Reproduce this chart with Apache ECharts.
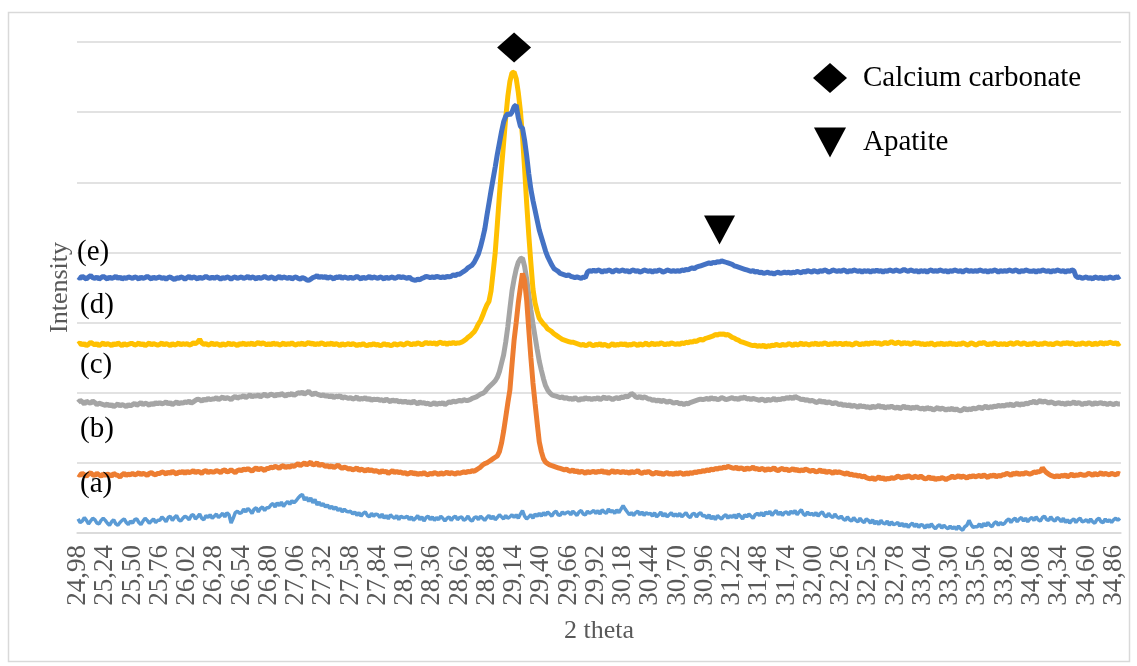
<!DOCTYPE html>
<html>
<head>
<meta charset="utf-8">
<script src="https://cdn.jsdelivr.net/npm/echarts@6/dist/echarts.min.js"></script>
<style>
html,body{margin:0;padding:0;background:#fff;}
#chart{width:1137px;height:666px;}
</style>
</head>
<body>
<div id="chart"></div>
<script>
// 2-theta axis: 24.98 .. 34.92 in steps of 0.02 (498 categories)
const thetaStart = 24.98;
const thetaStep = 0.02;
const thetaCount = 498;
const categories = [];
for (let i = 0; i < thetaCount; i++) {
  categories.push((thetaStart + thetaStep * i).toFixed(2).replace('.', ','));
}

// Offset intensities (arbitrary units, grid spacing = 100)
const seriesA = [
20,15,17,22,18,13,17,21,19,14,13,18,21,
18,14,11,16,19,13,11,15,18,20,15,12,17,
14,19,20,15,12,17,21,18,14,17,20,15,18,
18,23,20,16,22,24,18,22,25,19,17,21,24,
22,19,25,26,20,23,27,21,19,25,22,26,21,
24,27,22,25,28,23,29,26,14,21,29,31,28,
29,34,30,35,32,28,34,36,30,35,37,32,36,
36,40,42,37,43,39,44,38,42,45,41,46,43,
46,50,53,55,47,51,45,50,43,48,40,44,39,
42,37,40,35,38,34,37,32,35,30,34,31,30,
31,27,30,25,29,24,28,30,25,23,28,24,27,
26,22,27,21,25,20,26,23,21,25,19,24,22,
22,24,19,23,18,21,25,19,23,17,22,24,19,
23,18,22,19,24,21,17,21,23,18,22,24,19,
22,23,18,20,24,19,17,22,23,19,24,21,18,
22,25,20,24,19,22,26,23,20,25,21,23,26,
22,26,21,27,32,24,20,23,26,21,27,24,28,
24,29,25,30,27,24,29,31,26,25,30,27,29,
30,26,31,28,25,30,32,27,26,31,28,30,32,
28,32,27,33,30,28,34,30,32,28,33,29,34,
39,34,30,26,29,25,29,31,26,30,25,29,27,
28,24,29,23,26,30,24,28,23,26,29,24,27,
24,28,23,26,29,24,22,27,28,23,27,29,24,
25,21,26,20,24,19,25,22,20,24,26,21,25,
22,26,21,27,24,20,26,23,27,24,21,26,28,
25,29,24,30,27,31,25,29,32,26,30,25,29,
30,26,31,28,32,26,30,33,27,25,30,26,28,
25,29,24,28,30,25,23,28,24,22,27,23,21,
24,20,18,23,19,17,22,18,16,21,17,15,20,
18,14,19,13,17,12,18,14,13,17,11,16,12,
13,15,10,14,9,13,8,12,14,9,13,8,12,
11,7,12,8,13,9,6,10,12,7,11,8,6,
10,6,9,5,10,6,4,9,11,18,12,8,9,
9,13,8,14,10,15,11,9,14,16,11,15,12,
14,18,20,15,19,21,16,20,22,17,21,16,20,
22,18,23,19,17,22,24,19,18,23,19,17,22,
20,16,21,15,19,14,18,20,15,19,21,16,17,
19,15,20,16,14,19,21,16,15,20,16,19,15,
19,21,18,21
];

const seriesB = [
84,82,85,83,81,84,86,83,82,85,83,81,84,
82,84,83,81,85,83,82,80,83,85,82,84,83,
85,83,84,86,83,85,84,82,85,86,84,83,85,
85,87,86,84,87,85,88,86,84,87,86,88,85,
88,86,87,89,86,88,87,85,88,89,86,88,87,
87,89,88,86,89,90,87,88,90,88,86,89,90,
89,91,90,92,90,88,91,93,90,92,91,89,92,
92,94,93,95,94,92,95,96,93,95,94,96,95,
97,99,96,98,100,97,99,101,97,98,100,96,98,
97,95,96,94,96,93,95,97,94,92,94,93,91,
92,90,91,93,89,91,90,88,91,89,90,88,89,
88,86,89,87,88,85,87,89,86,88,86,87,85,
86,84,85,87,84,86,83,85,84,86,84,83,85,
84,86,85,83,86,84,85,87,84,86,85,84,86,
85,86,87,86,88,87,89,88,90,92,94,97,99,
100,102,104,106,108,110,116,128,145,165,185,204,240,
275,300,328,350,370,360,332,290,250,214,185,157,130,
116,106,101,99,97,96,95,94,93,92,91,90,91,
89,88,90,87,89,86,88,87,85,88,86,87,88,
86,88,87,89,86,88,85,87,89,86,88,87,86,
88,86,87,85,88,86,87,89,86,85,87,86,88,
86,84,85,87,84,86,83,85,86,84,85,83,86,
84,86,85,83,86,84,86,85,87,86,88,87,89,
88,90,89,91,90,92,91,93,92,94,93,95,94,
93,92,94,91,93,92,90,93,91,92,94,91,92,
90,92,91,89,92,90,91,93,90,89,91,92,90,
91,89,90,92,89,91,88,90,89,91,90,88,89,
89,87,88,90,87,89,86,88,87,85,88,86,87,
86,85,84,86,83,84,82,83,81,82,80,81,79,
78,77,79,76,78,80,77,79,76,78,77,79,78,
79,81,80,78,81,79,82,80,78,81,80,79,81,
79,77,78,80,77,79,76,78,77,79,78,76,78,
79,81,79,80,82,79,81,80,78,81,80,82,80,
81,82,80,83,81,79,82,81,83,80,82,81,83,
83,85,84,82,85,84,86,83,85,84,86,85,84,
85,87,86,88,87,93,89,86,84,82,81,80,82,
80,82,81,83,80,82,84,81,83,82,84,83,82,
83,85,84,82,85,83,84,86,83,85,84,83,85,
84,83,85,84
];

const seriesC = [
186,189,187,184,188,186,185,188,186,183,185,184,183,
182,184,181,183,180,182,184,181,183,182,180,183,181,
183,185,182,184,186,183,185,184,182,185,183,186,184,
186,184,185,187,184,186,183,185,187,184,186,185,187,
186,188,185,187,189,191,190,188,191,189,192,190,191,
191,193,190,192,194,191,193,192,190,193,195,192,194,
194,196,193,195,197,194,196,195,197,194,196,198,195,
196,198,197,195,198,196,199,197,195,198,197,199,196,
198,200,199,201,198,200,202,199,197,200,198,197,196,
197,195,196,194,196,193,195,194,196,192,194,193,192,
193,191,192,194,190,192,191,193,190,192,189,191,190,
191,189,190,188,191,189,187,190,188,189,187,188,186,
188,186,187,185,188,186,184,187,185,186,184,185,183,
184,186,183,185,184,186,183,185,187,186,188,187,188,
189,188,190,189,189,190,192,193,194,196,198,199,201,
205,208,211,214,217,222,230,242,254,272,294,320,345,
362,376,386,391,392,380,362,340,318,298,280,262,245,
232,220,210,204,200,197,196,195,194,193,194,192,193,
191,192,190,193,191,189,192,190,193,191,192,190,192,
191,193,190,192,194,191,193,192,190,192,193,191,194,
193,195,194,196,199,197,194,193,195,192,194,193,191,
191,189,190,188,190,187,189,188,186,188,187,185,186,
186,184,185,183,185,184,186,187,188,189,190,191,190,
191,192,190,193,191,192,190,191,193,192,190,191,192,
193,191,192,190,193,192,194,191,192,190,192,191,190,
189,191,190,188,191,189,190,192,189,191,190,192,191,
193,192,194,191,195,193,192,190,191,189,190,188,189,
188,186,187,189,186,188,185,187,186,184,186,185,183,
184,182,183,181,183,180,182,181,179,182,180,181,179,
180,178,181,179,180,182,179,181,178,180,179,181,179,
178,180,177,179,181,178,180,177,179,178,180,178,177,
178,176,179,177,178,175,177,179,176,178,177,175,177,
176,178,175,177,175,174,176,178,175,177,176,178,177,
178,180,177,179,181,178,180,179,181,180,182,181,182,
181,183,182,184,181,183,185,182,184,183,185,184,186,
186,188,185,187,189,186,188,187,185,187,186,184,185,
186,184,185,183,186,184,185,187,184,186,185,183,185,
184,186,185,183,186,184,185,186,184,185,183,185,184,
183,185,184,184
];

const seriesD = [
269,271,268,270,267,269,272,270,268,270,267,269,271,
268,270,269,267,270,268,271,269,267,270,268,269,270,
270,268,269,271,268,270,267,269,271,268,270,269,268,
269,271,268,270,269,267,270,268,269,271,268,270,269,
270,268,269,271,270,272,276,271,269,270,268,269,271,
268,270,269,267,270,268,269,271,268,270,269,267,270,
269,271,268,270,269,271,268,270,272,269,271,270,268,
270,268,271,269,270,268,269,271,268,270,269,271,269,
268,270,269,271,268,270,272,269,271,268,270,269,271,
270,268,270,269,271,268,270,269,267,270,268,269,270,
268,270,269,267,269,268,270,268,267,269,268,270,268,
269,267,268,270,268,269,267,268,270,268,269,270,268,
269,271,270,268,270,269,271,270,268,270,272,270,271,
270,271,269,271,272,270,271,269,271,270,272,270,271,
271,272,274,276,279,281,284,287,292,298,303,310,318,
325,330,345,372,400,440,482,520,556,592,622,644,656,
657,648,628,602,565,520,470,425,385,348,328,316,306,
302,298,295,291,289,287,284,282,280,278,276,275,274,
273,272,272,271,270,269,268,269,267,268,270,268,267,
269,268,270,267,269,268,266,268,270,267,269,268,270,
268,270,267,269,268,270,269,267,270,268,269,271,268,
269,271,268,270,269,271,270,268,270,269,271,270,269,
270,269,271,270,272,271,273,272,274,273,275,276,275,
277,278,279,280,281,283,282,284,283,284,282,283,281,
279,278,276,275,273,272,271,270,269,268,267,268,266,
267,266,268,265,267,266,268,267,269,268,267,269,268,
268,270,269,267,270,268,269,271,268,270,269,268,270,
269,271,268,270,269,271,270,268,270,269,271,269,270,
270,268,271,269,270,268,269,271,270,268,270,269,271,
269,271,270,272,270,271,269,270,272,270,271,273,271,
270,272,271,269,272,270,271,269,270,272,270,271,269,
270,268,270,269,271,269,268,270,269,271,268,270,269,
271,269,270,268,270,269,271,270,268,269,271,270,268,
269,271,270,272,270,268,270,269,271,270,268,270,269,
270,268,270,271,269,270,272,270,269,271,270,268,270,
269,271,270,268,270,269,271,270,269,270,268,270,271,
270,269,271,270,272,269,271,270,268,270,269,271,270,
269,271,270,268,271,269,270,272,269,271,270,272,271,
270,271,269,271
];

const seriesE = [
365,363,366,364,362,365,367,364,363,365,362,364,366,
364,362,365,363,364,366,363,365,362,364,363,365,364,
363,365,364,362,365,363,364,366,364,362,365,363,364,
365,363,364,362,364,365,363,361,364,363,365,364,362,
364,366,363,365,364,362,365,363,364,366,364,363,365,
363,365,364,362,364,363,365,364,362,364,365,363,364,
365,363,364,366,363,365,364,362,365,363,364,366,364,
363,365,364,362,364,366,363,365,364,363,365,362,364,
365,363,362,364,363,361,360,362,364,365,367,364,366,
364,366,363,365,364,362,365,364,366,363,365,364,363,
365,363,364,366,364,362,365,363,364,366,363,365,364,
363,365,364,362,365,363,364,365,363,364,366,364,365,
364,363,365,362,361,360,362,361,363,364,366,365,364,
365,364,366,365,364,365,364,366,365,366,368,367,369,
369,371,373,375,378,380,382,386,392,398,408,420,433,
452,470,488,505,522,540,556,572,586,594,598,596,600,
608,610,592,580,577,560,538,512,490,474,460,446,432,
422,412,402,394,388,382,377,375,373,370,369,368,367,
368,366,365,364,365,364,363,365,364,372,374,373,375,
373,375,374,372,374,373,375,374,372,374,375,373,374,
375,373,374,372,374,375,373,374,372,373,375,374,373,
374,372,374,373,375,374,372,373,375,374,373,374,373,
374,373,375,374,376,375,377,378,377,379,380,381,382,
383,384,385,384,386,385,387,386,388,387,386,385,384,
383,381,380,379,378,377,376,375,374,373,374,372,373,
371,372,370,371,372,370,371,369,371,372,370,371,372,
371,372,370,372,371,373,372,371,373,372,374,373,372,
374,373,372,374,373,375,374,372,373,375,374,373,374,
373,375,374,372,374,373,375,374,373,374,372,374,373,
374,372,374,373,375,373,374,372,374,373,375,374,373,
375,374,373,374,376,374,373,375,374,373,374,372,374,
373,374,372,374,375,373,374,373,375,374,373,374,372,
374,373,375,374,373,374,372,374,375,373,374,373,374,
373,375,374,373,374,372,374,373,375,374,372,374,373,
374,373,375,374,373,375,374,372,374,373,375,374,373,
373,374,372,374,373,375,374,373,374,372,374,373,375,
374,373,374,372,374,373,375,374,366,364,365,363,364,
365,363,364,362,365,364,363,365,362,364,363,365,364,
363,365,364,366
];

// Peak annotations (category, intensity)
const carbonateMark = [['29,14', 692]];
const apatiteMark = [['31,10', 432]];
const curveLabels = ['(a)', '(b)', '(c)', '(d)', '(e)'];

const serif = "'Liberation Serif','Times New Roman',serif";
const chart = echarts.init(document.getElementById('chart'), null, {renderer: 'canvas'});

function lineSeries(name, data, color, width) {
  return {
    name: name, type: 'line', data: data, showSymbol: false, symbol: 'none',
    smooth: false, lineStyle: {color: color, width: width}, itemStyle: {color: color},
    emphasis: {disabled: true}
  };
}

const labelPos = [
  {x: 80, y: 485}, {x: 80, y: 430}, {x: 80, y: 366}, {x: 80, y: 306}, {x: 77, y: 253}
];

chart.setOption({
  animation: false,
  backgroundColor: '#ffffff',
  grid: {left: 77, right: 16, top: 42, bottom: 133, containLabel: false},
  legend: {
    data: ['Calcium carbonate', 'Apatite'],
    orient: 'vertical', left: 813, top: 63, padding: 0,
    itemWidth: 34, itemHeight: 30, itemGap: 34.5,
    selectedMode: false,
    textStyle: {fontSize: 29, fontFamily: serif, color: '#000', padding: [0, 0, 0, 11]}
  },
  xAxis: {
    type: 'category', data: categories, boundaryGap: true,
    name: '2 theta', nameLocation: 'middle', nameGap: 85,
    nameTextStyle: {fontSize: 26, fontFamily: serif, color: '#595959'},
    axisLine: {lineStyle: {color: '#d9d9d9', width: 1.5}},
    axisTick: {show: false},
    axisLabel: {interval: 12, rotate: 90, fontSize: 27, fontFamily: serif,
      color: '#595959', margin: 12, hideOverlap: false},
    splitLine: {show: false}
  },
  yAxis: {
    type: 'value', min: 0, max: 700, interval: 100,
    name: 'Intensity', nameLocation: 'middle', nameGap: 4,
    nameTextStyle: {fontSize: 26, fontFamily: serif, color: '#595959'},
    axisLabel: {show: false}, axisLine: {show: false}, axisTick: {show: false},
    splitLine: {lineStyle: {color: '#d9d9d9', width: 1.5}}
  },
  series: [
    lineSeries('(a)', seriesA, '#5B9BD5', 3.5),
    lineSeries('(c)', seriesC, '#A5A5A5', 5),
    lineSeries('(b)', seriesB, '#ED7D31', 5),
    lineSeries('(d)', seriesD, '#FFC000', 5),
    lineSeries('(e)', seriesE, '#4472C4', 5),
    {
      name: 'Calcium carbonate', type: 'scatter', data: carbonateMark, clip: false,
      symbol: 'diamond', symbolSize: [34, 30], itemStyle: {color: '#000', opacity: 1}, z: 5
    },
    {
      name: 'Apatite', type: 'scatter', data: apatiteMark, clip: false,
      symbol: 'path://M0,0 L31,0 L15.5,29 Z', symbolSize: [31, 29], itemStyle: {color: '#000', opacity: 1}, z: 5
    }
  ],
  graphic: [
    {type: 'rect', shape: {x: 8.5, y: 12.5, width: 1121, height: 649}, style: {fill: 'none', stroke: '#d9d9d9', lineWidth: 1.5}, silent: true, z: -10}
  ].concat(curveLabels.map(function (t, i) {
    return {type: 'text', left: labelPos[i].x, top: labelPos[i].y - 15,
      style: {text: t, fontSize: 29, fontFamily: serif, fill: '#000'}, silent: true, z: 10};
  }))
});
</script>
</body>
</html>
